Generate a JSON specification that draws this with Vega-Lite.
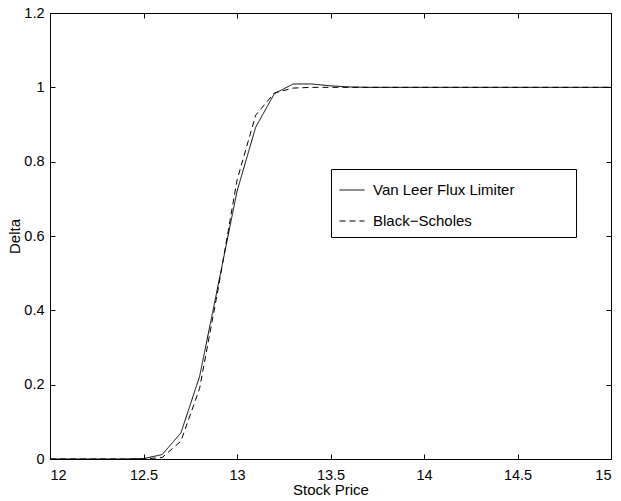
{
  "$schema": "https://vega.github.io/schema/vega-lite/v6.json",
  "width": 561,
  "height": 446,
  "autosize": {"type": "none"},
  "padding": {"left": 50, "top": 13, "right": 10, "bottom": 42},
  "background": "white",
  "config": {
    "font": "Liberation Sans",
    "view": {"stroke": "black", "strokeWidth": 1},
    "axis": {
      "grid": false,
      "domainColor": "black",
      "domainWidth": 1,
      "tickColor": "black",
      "tickSize": -5,
      "tickWidth": 1,
      "labelColor": "black",
      "labelFontSize": 14.5,
      "labelFont": "Liberation Sans",
      "titleColor": "black",
      "titleFontSize": 15,
      "titleFont": "Liberation Sans",
      "titleFontWeight": "normal"
    }
  },
  "data": {
    "values": [
      {"price": 12.0, "delta": 0, "series": "Van Leer Flux Limiter"},
      {"price": 12.1, "delta": 0, "series": "Van Leer Flux Limiter"},
      {"price": 12.2, "delta": 0, "series": "Van Leer Flux Limiter"},
      {"price": 12.3, "delta": 0, "series": "Van Leer Flux Limiter"},
      {"price": 12.4, "delta": 0, "series": "Van Leer Flux Limiter"},
      {"price": 12.5, "delta": 0.001, "series": "Van Leer Flux Limiter"},
      {"price": 12.6, "delta": 0.012, "series": "Van Leer Flux Limiter"},
      {"price": 12.7, "delta": 0.07, "series": "Van Leer Flux Limiter"},
      {"price": 12.8, "delta": 0.222, "series": "Van Leer Flux Limiter"},
      {"price": 12.9, "delta": 0.47, "series": "Van Leer Flux Limiter"},
      {"price": 13.0, "delta": 0.72, "series": "Van Leer Flux Limiter"},
      {"price": 13.1, "delta": 0.893, "series": "Van Leer Flux Limiter"},
      {"price": 13.2, "delta": 0.983, "series": "Van Leer Flux Limiter"},
      {"price": 13.3, "delta": 1.009, "series": "Van Leer Flux Limiter"},
      {"price": 13.4, "delta": 1.009, "series": "Van Leer Flux Limiter"},
      {"price": 13.5, "delta": 1.004, "series": "Van Leer Flux Limiter"},
      {"price": 13.6, "delta": 1.001, "series": "Van Leer Flux Limiter"},
      {"price": 13.7, "delta": 1.0, "series": "Van Leer Flux Limiter"},
      {"price": 13.8, "delta": 1.0, "series": "Van Leer Flux Limiter"},
      {"price": 13.9, "delta": 1.0, "series": "Van Leer Flux Limiter"},
      {"price": 14.0, "delta": 1.0, "series": "Van Leer Flux Limiter"},
      {"price": 14.1, "delta": 1.0, "series": "Van Leer Flux Limiter"},
      {"price": 14.2, "delta": 1.0, "series": "Van Leer Flux Limiter"},
      {"price": 14.3, "delta": 1.0, "series": "Van Leer Flux Limiter"},
      {"price": 14.4, "delta": 1.0, "series": "Van Leer Flux Limiter"},
      {"price": 14.5, "delta": 1.0, "series": "Van Leer Flux Limiter"},
      {"price": 14.6, "delta": 1.0, "series": "Van Leer Flux Limiter"},
      {"price": 14.7, "delta": 1.0, "series": "Van Leer Flux Limiter"},
      {"price": 14.8, "delta": 1.0, "series": "Van Leer Flux Limiter"},
      {"price": 14.9, "delta": 1.0, "series": "Van Leer Flux Limiter"},
      {"price": 15.0, "delta": 1.0, "series": "Van Leer Flux Limiter"},
      {"price": 12.0, "delta": 0, "series": "Black−Scholes"},
      {"price": 12.1, "delta": 0, "series": "Black−Scholes"},
      {"price": 12.2, "delta": 0, "series": "Black−Scholes"},
      {"price": 12.3, "delta": 0, "series": "Black−Scholes"},
      {"price": 12.4, "delta": 0, "series": "Black−Scholes"},
      {"price": 12.5, "delta": 0.0, "series": "Black−Scholes"},
      {"price": 12.6, "delta": 0.004, "series": "Black−Scholes"},
      {"price": 12.7, "delta": 0.048, "series": "Black−Scholes"},
      {"price": 12.8, "delta": 0.19, "series": "Black−Scholes"},
      {"price": 12.9, "delta": 0.46, "series": "Black−Scholes"},
      {"price": 13.0, "delta": 0.75, "series": "Black−Scholes"},
      {"price": 13.1, "delta": 0.925, "series": "Black−Scholes"},
      {"price": 13.2, "delta": 0.985, "series": "Black−Scholes"},
      {"price": 13.3, "delta": 0.998, "series": "Black−Scholes"},
      {"price": 13.4, "delta": 1.0, "series": "Black−Scholes"},
      {"price": 13.5, "delta": 1.0, "series": "Black−Scholes"},
      {"price": 13.6, "delta": 1.0, "series": "Black−Scholes"},
      {"price": 13.7, "delta": 1.0, "series": "Black−Scholes"},
      {"price": 13.8, "delta": 1.0, "series": "Black−Scholes"},
      {"price": 13.9, "delta": 1.0, "series": "Black−Scholes"},
      {"price": 14.0, "delta": 1.0, "series": "Black−Scholes"},
      {"price": 14.1, "delta": 1.0, "series": "Black−Scholes"},
      {"price": 14.2, "delta": 1.0, "series": "Black−Scholes"},
      {"price": 14.3, "delta": 1.0, "series": "Black−Scholes"},
      {"price": 14.4, "delta": 1.0, "series": "Black−Scholes"},
      {"price": 14.5, "delta": 1.0, "series": "Black−Scholes"},
      {"price": 14.6, "delta": 1.0, "series": "Black−Scholes"},
      {"price": 14.7, "delta": 1.0, "series": "Black−Scholes"},
      {"price": 14.8, "delta": 1.0, "series": "Black−Scholes"},
      {"price": 14.9, "delta": 1.0, "series": "Black−Scholes"},
      {"price": 15.0, "delta": 1.0, "series": "Black−Scholes"}
    ]
  },
  "layer": [
    {
      "mark": {"type": "line", "color": "black", "strokeWidth": 1, "clip": true},
      "encoding": {
        "x": {
          "field": "price",
          "type": "quantitative",
          "scale": {"domain": [12, 15], "nice": false, "zero": false},
          "axis": {
            "orient": "bottom",
            "title": "Stock Price",
            "values": [12, 12.5, 13, 13.5, 14, 14.5, 15],
            "format": "~g",
            "labelPadding": 14,
            "titlePadding": 1
          }
        },
        "y": {
          "field": "delta",
          "type": "quantitative",
          "scale": {"domain": [0, 1.2], "nice": false},
          "axis": {
            "orient": "left",
            "title": "Delta",
            "values": [0, 0.2, 0.4, 0.6, 0.8, 1, 1.2],
            "format": "~g",
            "labelPadding": 11,
            "titlePadding": 1
          }
        },
        "strokeDash": {
          "field": "series",
          "type": "nominal",
          "scale": {
            "domain": ["Van Leer Flux Limiter", "Black−Scholes"],
            "range": [[1, 0], [6, 4]]
          },
          "legend": {
            "orient": "none",
            "legendX": 281,
            "legendY": 156,
            "title": " ",
            "titleOrient": "right",
            "titlePadding": 54,
            "strokeColor": "black",
            "fillColor": "white",
            "padding": 8,
            "symbolType": "stroke",
            "symbolSize": 625,
            "symbolStrokeWidth": 1,
            "symbolStrokeColor": "black",
            "labelFontSize": 15,
            "labelFont": "Liberation Sans",
            "labelColor": "black",
            "labelOffset": 8,
            "rowPadding": 10
          }
        }
      }
    },
    {
      "mark": {"type": "point", "opacity": 0},
      "encoding": {
        "x": {
          "field": "price",
          "type": "quantitative",
          "axis": {
            "orient": "top",
            "title": null,
            "labels": false,
            "values": [12, 12.5, 13, 13.5, 14, 14.5, 15]
          }
        },
        "y": {
          "field": "delta",
          "type": "quantitative",
          "axis": {
            "orient": "right",
            "title": null,
            "labels": false,
            "values": [0, 0.2, 0.4, 0.6, 0.8, 1, 1.2]
          }
        }
      }
    }
  ],
  "resolve": {"axis": {"x": "independent", "y": "independent"}}
}
